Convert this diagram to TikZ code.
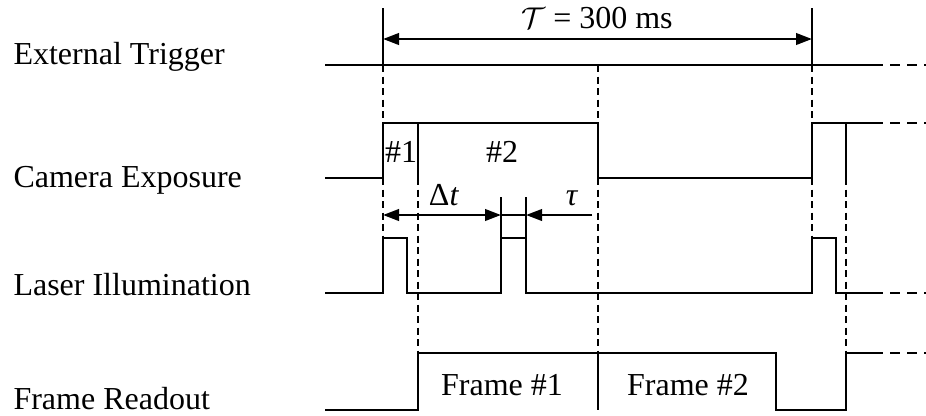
\documentclass[tikz,border=0pt]{standalone}
\usepackage{fontspec}
\setmainfont{Liberation Serif}
\usetikzlibrary{arrows.meta}
\tikzset{
  sig/.style={line width=1.15pt, line join=miter},
  guide/.style={line width=0.85pt, dash pattern=on 2.8pt off 1.8pt},
  cont/.style={line width=1.15pt, dash pattern=on 4pt off 2.8pt},
  tickline/.style={line width=0.9pt},
  tip/.tip={Triangle[length=6.4pt,width=4.6pt]},
  span/.style={line width=1pt, tip-tip},
  lbl/.style={font=\fontsize{12.8}{15}\selectfont, inner sep=0pt}
}

\begin{document}
\begin{tikzpicture}[x=0.4pt,y=-0.4pt]
    \useasboundingbox (0,0) rectangle (926,415);
    % row labels
    \node[lbl,anchor=base west] (lbltrig) at (13,64) {External Trigger};
    \node[lbl,anchor=base west] (lblcam) at (13,187) {Camera Exposure};
    \node[lbl,anchor=base west] (lbllaser) at (13,295) {Laser Illumination};
    \node[lbl,anchor=base west] (lblread) at (13,409) {Frame Readout};
    % external trigger
    \draw[sig] (325,65) -- (873,65);
    \draw[cont] (873,65) -- (926,65);
    \draw[tickline] (383,8) -- (383,65);
    \draw[tickline] (812,8) -- (812,65);
    \coordinate (pa) at (383,39);
    \coordinate (pb) at (812,39);
    \draw[span] (pa) -- (pb);
    \node[lbl,anchor=base] (period) at (597,28.5) {$\mathcal{T}$ = 300 ms};
    % camera exposure
    \draw[sig] (325,178) -- (383,178) -- (383,123) -- (598,123) -- (598,178)
      -- (812,178) -- (812,123) -- (873,123);
    \draw[cont] (873,123) -- (926,123);
    \draw[sig] (418,123) -- (418,178);
    \draw[sig] (846,123) -- (846,178);
    \node[lbl,anchor=base] (expo1) at (401,162) {\#1};
    \node[lbl,anchor=base] (expo2) at (502,162) {\#2};
    % laser illumination
    \draw[sig] (325,293) -- (383,293) -- (383,238) -- (407,238) -- (407,293)
      -- (501,293) -- (501,238) -- (526,238) -- (526,293)
      -- (812,293) -- (812,238) -- (836,238) -- (836,293) -- (873,293);
    \draw[cont] (873,293) -- (926,293);
    % frame readout
    \draw[sig] (325,410) -- (418,410) -- (418,353) -- (776,353) -- (776,410)
      -- (846,410) -- (846,353) -- (873,353);
    \draw[cont] (873,353) -- (926,353);
    \draw[sig] (598,353) -- (598,410);
    \node[lbl,anchor=base] (frame1) at (502,395) {Frame \#1};
    \node[lbl,anchor=base] (frame2) at (688,395) {Frame \#2};
    % guide lines
    \foreach \gx/\ga/\gb in {383/65/123, 383/178/238, 598/65/123, 598/178/353,
      418/178/353, 812/65/123, 812/178/238, 846/178/353}
      \draw[guide] (\gx,\ga) -- (\gx,\gb);
    % pulse spacing
    \coordinate (da) at (383,215);
    \coordinate (db) at (501,215);
    \coordinate (ta) at (592,215);
    \coordinate (tb) at (526,215);
    \draw[tickline] (501,197) -- (501,238);
    \draw[tickline] (526,197) -- (526,238);
    \draw[span] (da) -- (db);
    \draw[tickline] (db) -- (tb);
    \draw[tickline,-tip] (ta) -- (tb);
    \node[lbl,anchor=base] (dt) at (444,205) {Δ\textit{t}};
    \node[lbl,anchor=base] (tau) at (572,205) {\textit{τ}};
\end{tikzpicture}
\end{document}
